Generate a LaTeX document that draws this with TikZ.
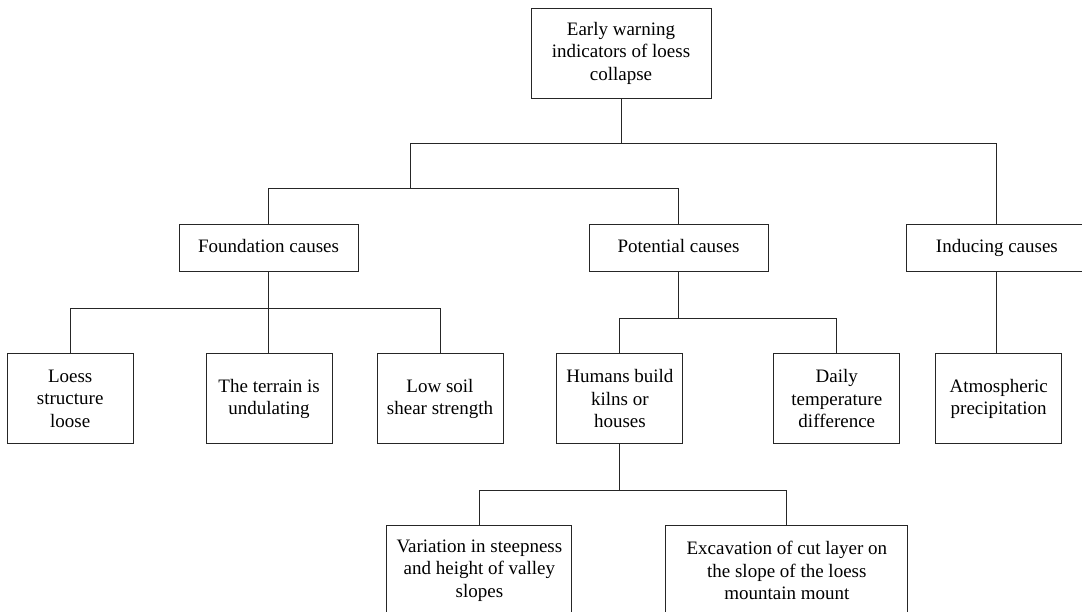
\documentclass[tikz,border=0pt]{standalone}
\usepackage{fontspec}
\setmainfont{Liberation Serif}
\usetikzlibrary{positioning}

\begin{document}
\begin{tikzpicture}[
  box/.style={draw=black!85, line width=0.9pt, align=center, inner sep=2pt,
    font=\fontsize{19}{22.5}\selectfont},
  tall/.style={box, minimum width=126pt, minimum height=90pt},
  wide/.style={box, minimum width=180pt, minimum height=47pt,
    text height=13pt, text depth=4pt},
  link/.style={draw=black!85, line width=0.9pt}
]
\useasboundingbox (0,0) rectangle (1082pt,-612pt);
\clip (0,0) rectangle (1082pt,-612pt);

% Define nodes
% Top node
\node[box, minimum width=180pt, minimum height=90pt] (root) at (621pt,-53pt)
  {Early warning\\indicators of loess\\collapse};
% Middle nodes
\node[wide, minimum width=179pt, below left=126pt and 172pt of root] (found) {Foundation causes};
\node[wide, minimum width=179pt, right=230pt of found] (pot) {Potential causes};
\node[wide, right=138pt of pot] (induc) {Inducing causes};
% Lower nodes
\node[tall, below left=81pt and 45pt of found] (loess) {Loess\\structure\\loose};
\node[tall, right=72pt of loess] (terr) {The terrain is\\undulating};
\node[tall, right=44pt of terr] (soil) {Low soil\\shear strength};
\node[tall, right=53pt of soil] (humans) {Humans build\\kilns or\\houses};
\node[tall, right=90pt of humans] (daily) {Daily\\temperature\\difference};
\node[tall, right=35pt of daily] (atmo) {Atmospheric\\precipitation};
% Bottom nodes
\node[tall, minimum width=185pt, below=81pt of humans, xshift=-140.5pt] (vari)
  {Variation in steepness\\and height of valley\\slopes};
\node[tall, minimum width=242pt, right=93pt of vari] (excav)
  {Excavation of cut layer on\\the slope of the loess\\mountain mount};

% Edges
\draw[link] (root.south) -- ++(0,-45pt) coordinate (b1)
  -- ++(-211pt,0) coordinate (b2) -- ++(0,-45pt) coordinate (b3);
\draw[link] (b1) -| (induc.north);
\draw[link] (found.north) |- (b3) -| (pot.north);

\draw[link] (found.south) -- ++(0,-36pt) coordinate (f1);
\draw[link] (loess.north) |- (f1) -| (soil.north);
\draw[link] (f1) -- (f1 |- terr.north);

\draw[link] (pot.south) -- ++(0,-46pt) coordinate (p1);
\draw[link] (humans.north) |- (p1) -| (daily.north);

\draw[link] (induc.south) -- (induc.south |- atmo.north);

\draw[link] (humans.south) -- ++(0,-46pt) coordinate (h1);
\draw[link] (vari.north) |- (h1) -| (excav.north);
\end{tikzpicture}
\end{document}
